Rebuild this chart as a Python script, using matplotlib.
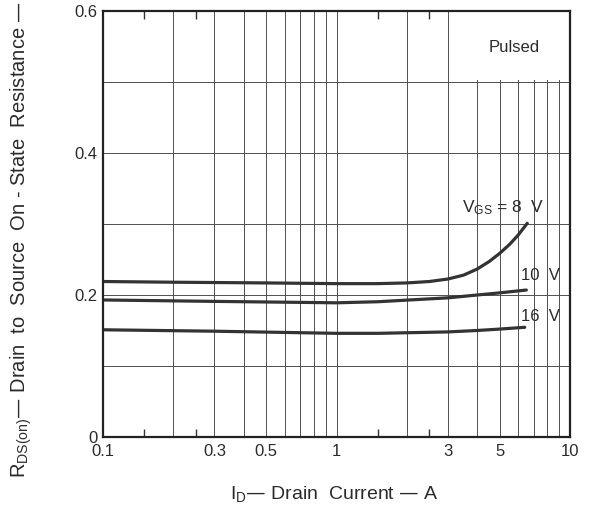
import matplotlib
matplotlib.use('Agg')
import matplotlib.pyplot as plt
from matplotlib.patches import Rectangle

plt.rcParams['font.family'] = ['Liberation Sans', 'DejaVu Sans']
plt.rcParams['mathtext.default'] = 'regular'

# drain current (A) and on-resistance (ohm)
id_8v = [0.1, 0.2, 0.5, 1, 1.5, 2, 2.5, 3, 3.5, 4, 4.5, 5, 5.5, 6, 6.56]
rds_8v = [0.219, 0.218, 0.217, 0.216, 0.216, 0.217, 0.219, 0.2225, 0.228,
          0.2365, 0.247, 0.2587, 0.271, 0.2845, 0.301]
id_10v = [0.1, 0.3, 1, 1.5, 3, 4, 5, 6.5]
rds_10v = [0.193, 0.191, 0.189, 0.1905, 0.196, 0.200, 0.203, 0.207]
id_16v = [0.1, 0.3, 1, 1.5, 3, 4, 5, 6.4]
rds_16v = [0.151, 0.149, 0.146, 0.146, 0.148, 0.150, 0.152, 0.1545]

curve_labels = ['V$_{GS}$ = 8  V', '10  V', '16  V']
x_ticks = [0.1, 0.3, 0.5, 1, 3, 5, 10]
x_ticklabels = ['0.1', '0.3', '0.5', '1', '3', '5', '10']
y_ticks = [0, 0.2, 0.4, 0.6]
y_ticklabels = ['0', '0.2', '0.4', '0.6']
x_grid = [0.2, 0.3, 0.4, 0.5, 0.6, 0.7, 0.8, 0.9, 1, 2, 3, 4, 5, 6, 7, 8, 9]
y_grid = [0.1, 0.2, 0.3, 0.4, 0.5]
x_small = [0.15, 0.25, 1.5, 2.5]

ink = '#2b2b2b'
fig = plt.figure(figsize=(5.91, 5.08), dpi=100)
ax = fig.add_axes([0.1743, 0.1398, 0.7902, 0.8385])
ax.set_xscale('log')
ax.set_xlim(0.1, 10)
ax.set_ylim(0, 0.6)

for xv in x_grid:
    ax.axvline(xv, color='#505050', lw=0.7, zorder=1)
for yv in y_grid:
    ax.axhline(yv, color='#505050', lw=0.7, zorder=1)
# blank cell behind the "Pulsed" note
ax.add_patch(Rectangle((3.05, 0.503), 6.9, 0.097, facecolor='white',
                       edgecolor='none', zorder=1.5))

for xs, ys in [(id_8v, rds_8v), (id_10v, rds_10v), (id_16v, rds_16v)]:
    ax.plot(xs, ys, color='#333333', lw=2.3, solid_capstyle='round',
            solid_joinstyle='round', zorder=3)

ax.text(5.15, 0.3225, curve_labels[0], ha='center', va='center', fontsize=12.5,
        color=ink, zorder=4)
ax.text(7.5, 0.227, curve_labels[1], ha='center', va='center', fontsize=12,
        color=ink, zorder=4)
ax.text(7.5, 0.170, curve_labels[2], ha='center', va='center', fontsize=12,
        color=ink, zorder=4)
ax.text(5.75, 0.548, 'Pulsed', ha='center', va='center', fontsize=12,
        color=ink, zorder=4)

ax.set_xticks(x_ticks)
ax.set_xticklabels(x_ticklabels)
ax.set_xticks(x_small, minor=True)
ax.set_xticklabels([], minor=True)
ax.set_yticks(y_ticks)
ax.set_yticklabels(y_ticklabels)
ax.set_yticks([], minor=True)
ax.tick_params(axis='both', which='major', length=0, labelsize=12,
               labelcolor=ink)
ax.tick_params(axis='x', which='major', pad=5)
ax.tick_params(axis='y', which='major', pad=4)
ax.tick_params(axis='x', which='minor', length=6, width=1, direction='in',
               top=True, bottom=True, color='#333333')
for sp in ax.spines.values():
    sp.set_linewidth(1.6)
    sp.set_color('#222222')
    sp.set_zorder(5)

fig.text(0.566, 0.008, 'I$_D$\u2014 Drain  Current \u2014 A', ha='center',
         va='bottom', fontsize=14, color=ink)
fig.text(0.036, 1 - 478 / 508,
         'R$_{DS(on)}$\u2014 Drain  to  Source  On - State  Resistance \u2014  \u03a9',
         rotation=90, ha='center', va='bottom', fontsize=14.5, color=ink)

fig.savefig('out.png', dpi=100, facecolor='white')
